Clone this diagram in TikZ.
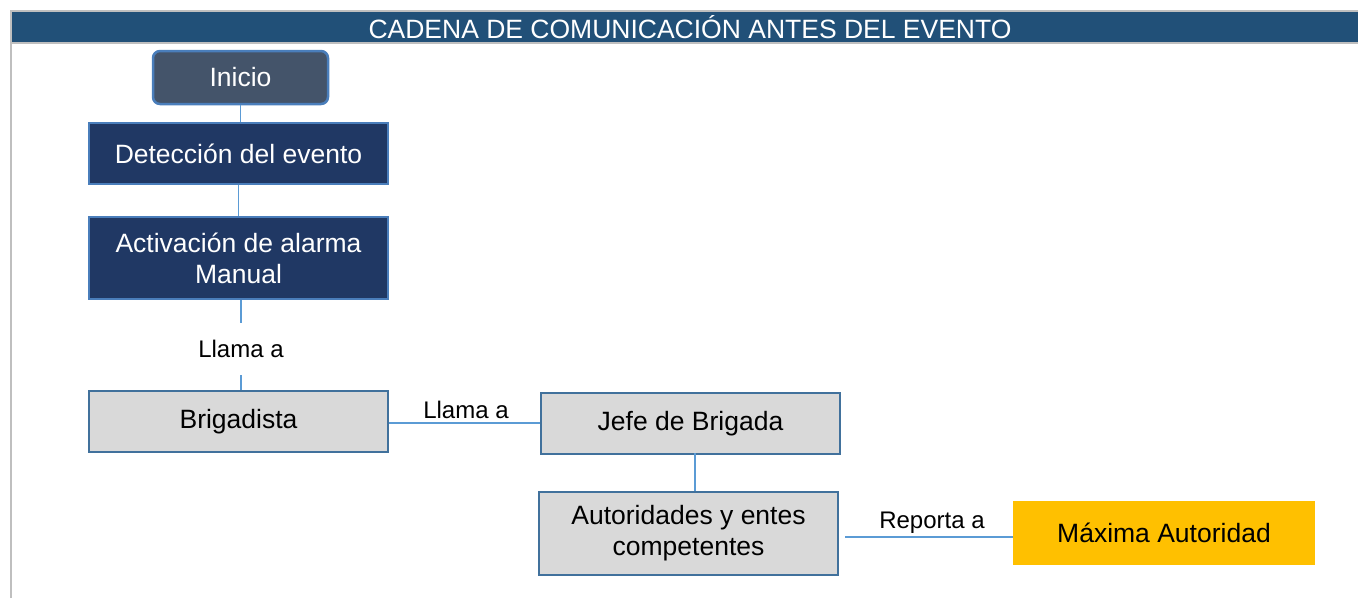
\documentclass[tikz,border=0pt]{standalone}
\usepackage{fontspec}
\setmainfont{Liberation Sans}
\usetikzlibrary{calc}
\definecolor{hdr}{HTML}{215078}
\definecolor{navy}{HTML}{203864}
\definecolor{slate}{HTML}{44546A}
\definecolor{bord}{HTML}{4A7EBB}
\definecolor{gbord}{HTML}{41719C}
\definecolor{lgray}{HTML}{D9D9D9}
\definecolor{conn}{HTML}{5B9BD5}
\definecolor{gold}{HTML}{FFC000}
\definecolor{frame}{HTML}{BFBFBF}
\tikzset{
  txt/.style={font=\fontsize{26.5}{31}\selectfont, align=center, inner sep=0pt},
  lbl/.style={font=\fontsize{24}{28}\selectfont, inner sep=0pt},
  navybox/.style={txt, draw=bord, line width=2.5pt, fill=navy, text=white},
  graybox/.style={txt, draw=gbord, line width=2.5pt, fill=lgray, text=black},
  startbox/.style={txt, draw=bord, line width=2.5pt, fill=slate, text=white, rounded corners=7pt},
  goldbox/.style={txt, fill=gold, text=black},
  link/.style={draw=conn, line width=1.3pt}
}
\begin{document}
\begin{tikzpicture}[x=1pt,y=-1pt]
\useasboundingbox (0,0) rectangle (1358,598);
% frame and header
\fill[hdr] (11,12) rectangle (1358,42);
\draw[frame, line width=2pt] (10.5,598) -- (10.5,11) -- (1358,11);
\draw[frame, line width=2pt] (11,43) -- (1358,43);
\node[txt, text=white] (title) at (690,27) {CADENA DE COMUNICACIÓN ANTES DEL EVENTO};
% nodes
\node[startbox, minimum width=175pt, minimum height=53pt] (ini) at (240.5,77.5) {Inicio};
\node[navybox, minimum width=299pt, minimum height=61pt] (det) at (238.5,153.5) {Detección del evento};
\node[navybox, minimum width=299pt, minimum height=82pt] (act) at (238.5,258) {Activación de alarma\\Manual};
\node[lbl, minimum height=52pt] (l1) at (241,349) {Llama a};
\node[graybox, minimum width=299pt, minimum height=61pt] (brig) at (238.5,421.5) {Brigadista};
\node[graybox, minimum width=299pt, minimum height=61pt] (jefe) at (690.5,423.5) {Jefe de Brigada};
\node[graybox, minimum width=299pt, minimum height=83pt] (aut) at (688.5,533.5) {Autoridades y entes\\competentes};
\node[goldbox, minimum width=302pt, minimum height=64pt] (max) at (1164,533) {Máxima Autoridad};
\node[lbl] (l2) at (466,410) {Llama a};
\node[lbl] (l3) at (932,523) {Reporta a};
% connectors
\draw[link] (ini.south) -- (ini.south |- det.north);
\draw[link] (det.south) -- (act.north);
\draw[link] (l1.north |- act.south) -- (l1.north);
\draw[link] (l1.south) -- (l1.south |- brig.north);
\draw[link] (brig.east |- 0,423) -- (jefe.west |- 0,423);
\draw[link] ($(jefe.south)+(4.5,-2)$) coordinate (j1) -- (j1 |- aut.north);
\draw[link] ($(aut.east)+(6,3.5)$) coordinate (a1) -- (a1 -| max.west);
\end{tikzpicture}
\end{document}
